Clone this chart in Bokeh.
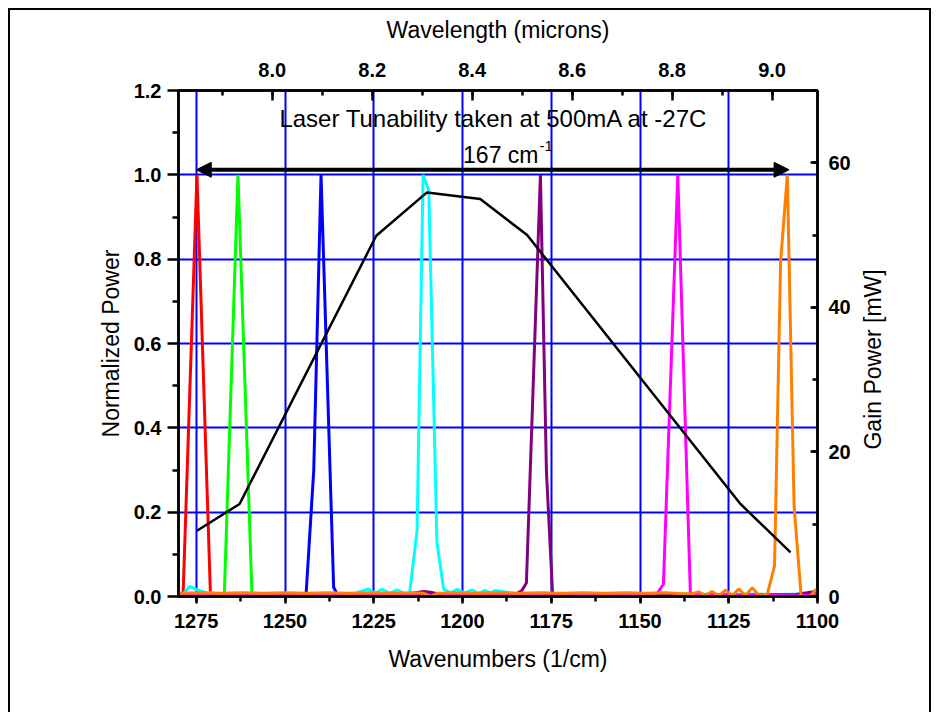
import math

from bokeh.plotting import figure
from bokeh.models import (Range1d, LinearAxis, SingleIntervalTicker, FixedTicker,
                          NumeralTickFormatter, Label, Arrow, NormalHead, InlineStyleSheet)
from bokeh.embed import file_html
from bokeh.resources import INLINE

FONT = "Liberation Sans"

# ---- axis limits and ticks ----------------------------------------------
WN_LEFT, WN_RIGHT = 1280.0, 1100.0          # wavenumber axis runs high -> low
NORM_MAX = 1.2
GAIN_MAX = 70.0
norm_ticks = [0.0, 0.2, 0.4, 0.6, 0.8, 1.0, 1.2]
norm_minor = [0.1, 0.3, 0.5, 0.7, 0.9, 1.1]

# ---- normalized laser spectra (wavenumber [1/cm], normalized power) ----
red_wn = [1280.0, 1278.7, 1274.8, 1271.0, 1264.0, 1256.0, 1248.0, 1240.0, 1232.0, 1224.0,
          1216.0, 1208.0, 1200.0, 1192.0, 1184.0, 1176.0, 1168.0, 1160.0, 1152.0, 1144.0,
          1136.0, 1128.0, 1120.0, 1112.0, 1104.0, 1100.0]
red_val = [0.004, 0.006, 1.000, 0.004, 0.003, 0.004, 0.002, 0.003, 0.004, 0.002,
           0.003, 0.004, 0.003, 0.002, 0.004, 0.003, 0.002, 0.003, 0.004, 0.003,
           0.002, 0.003, 0.004, 0.002, 0.003, 0.003]

green_wn = [1280.0, 1274.0, 1270.0, 1267.1, 1263.25, 1259.3, 1252.0, 1244.0, 1236.0, 1228.0,
            1220.0, 1212.0, 1204.0, 1196.0, 1188.0, 1180.0, 1172.0, 1164.0, 1156.0, 1148.0,
            1140.0, 1132.0, 1124.0, 1116.0, 1108.0, 1100.0]
green_val = [0.002, 0.003, 0.002, 0.004, 1.000, 0.004, 0.002, 0.003, 0.002, 0.001,
             0.003, 0.002, 0.002, 0.003, 0.001, 0.002, 0.003, 0.002, 0.002, 0.001,
             0.003, 0.002, 0.002, 0.003, 0.002, 0.002]

blue_wn = [1280.0, 1272.0, 1264.0, 1256.0, 1248.0, 1244.1, 1241.9, 1239.85, 1236.3, 1235.2,
           1230.0, 1222.0, 1214.0, 1206.0, 1198.0, 1190.0, 1182.0, 1174.0, 1166.0, 1158.0,
           1150.0, 1142.0, 1134.0, 1126.0, 1118.0, 1110.0, 1100.0]
blue_val = [0.001, 0.002, 0.001, 0.002, 0.001, 0.000, 0.300, 1.000, 0.022, 0.004,
            0.002, 0.001, 0.002, 0.001, 0.002, 0.001, 0.002, 0.001, 0.002, 0.001,
            0.002, 0.001, 0.002, 0.001, 0.002, 0.001, 0.002]

cyan_wn = [1280.0, 1278.6, 1276.9, 1274.8, 1272.2, 1266.0, 1258.0, 1250.0, 1242.0, 1234.0,
           1230.2, 1226.5, 1224.6, 1222.7, 1220.6, 1218.4, 1216.5, 1214.9, 1212.8, 1211.1,
           1209.5, 1207.2, 1205.3, 1203.4, 1201.5, 1199.4, 1197.3, 1195.5, 1193.6, 1192.2,
           1190.8, 1184.0, 1176.0, 1168.0, 1160.0, 1152.0, 1144.0, 1136.0, 1128.0, 1120.0,
           1112.0, 1104.0, 1100.0]
cyan_val = [0.005, 0.006, 0.024, 0.016, 0.009, 0.006, 0.005, 0.006, 0.005, 0.006,
            0.008, 0.018, 0.007, 0.017, 0.008, 0.016, 0.007, 0.008, 0.156, 1.000,
            0.963, 0.128, 0.018, 0.008, 0.017, 0.008, 0.016, 0.007, 0.015, 0.008,
            0.014, 0.006, 0.005, 0.006, 0.005, 0.006, 0.005, 0.006, 0.005, 0.006,
            0.005, 0.006, 0.005]

purple_wn = [1280.0, 1272.0, 1264.0, 1256.0, 1248.0, 1240.0, 1232.0, 1224.0, 1216.0, 1211.0,
             1209.0, 1206.0, 1198.0, 1190.0, 1185.0, 1183.3, 1182.0, 1178.05, 1176.35, 1174.6,
             1170.0, 1162.0, 1154.0, 1146.0, 1138.0, 1130.0, 1122.0, 1114.0, 1106.0, 1102.0,
             1100.0]
purple_val = [0.003, 0.004, 0.003, 0.004, 0.003, 0.004, 0.003, 0.004, 0.005, 0.012,
              0.010, 0.004, 0.003, 0.004, 0.005, 0.014, 0.032, 1.000, 0.295, 0.002,
              0.003, 0.004, 0.003, 0.004, 0.003, 0.004, 0.003, 0.004, 0.005, 0.010,
              0.012]

magenta_wn = [1280.0, 1270.0, 1260.0, 1250.0, 1240.0, 1230.0, 1220.0, 1210.0, 1200.0, 1190.0,
              1180.0, 1170.0, 1160.0, 1152.0, 1145.2, 1143.4, 1139.35, 1135.8, 1130.0, 1122.0,
              1114.0, 1106.0, 1100.0]
magenta_val = [0.003, 0.002, 0.003, 0.002, 0.003, 0.002, 0.003, 0.002, 0.003, 0.002,
               0.003, 0.002, 0.003, 0.004, 0.007, 0.029, 1.000, 0.004, 0.003, 0.002,
               0.003, 0.002, 0.003]

orange_wn = [1280.0, 1274.0, 1268.0, 1262.0, 1256.0, 1250.0, 1244.0, 1238.0, 1232.0, 1226.0,
             1220.0, 1214.0, 1211.0, 1209.0, 1207.0, 1202.0, 1196.0, 1190.0, 1184.0, 1178.0,
             1172.0, 1166.0, 1160.0, 1154.0, 1148.0, 1143.0, 1139.0, 1135.5, 1133.5, 1131.6,
             1129.7, 1127.8, 1125.9, 1124.0, 1122.2, 1120.3, 1118.4, 1116.5, 1114.15, 1112.1,
             1110.4, 1108.5, 1106.6, 1104.6, 1102.0, 1100.6, 1100.0]
orange_val = [0.008, 0.009, 0.008, 0.009, 0.008, 0.009, 0.008, 0.009, 0.008, 0.009,
              0.008, 0.009, 0.008, 0.000, 0.008, 0.009, 0.008, 0.009, 0.008, 0.009,
              0.008, 0.009, 0.008, 0.009, 0.008, 0.009, 0.007, 0.006, 0.011, 0.003,
              0.012, 0.002, 0.015, 0.002, 0.018, 0.002, 0.021, 0.003, 0.005, 0.073,
              0.793, 1.000, 0.216, 0.000, 0.000, 0.016, 0.012]

spectra = [
    (red_wn, red_val, "#FF0000"),
    (green_wn, green_val, "#00FF00"),
    (blue_wn, blue_val, "#0000FF"),
    (cyan_wn, cyan_val, "#00FFFF"),
    (purple_wn, purple_val, "#800080"),
    (magenta_wn, magenta_val, "#FF00FF"),
    (orange_wn, orange_val, "#FF8000"),
]

# ---- gain curve (wavenumber [1/cm], power [mW]) -------------------------
gain_wn = [1274.8, 1262.8, 1224.3, 1210.0, 1195.0, 1181.8, 1121.7, 1107.6]
gain_mw = [9.1, 12.8, 49.9, 55.9, 55.0, 50.0, 12.8, 6.1]

# ---- tuning range annotation -------------------------------------------
TUNE_START = 1275.0
TUNE_SPAN = 167
TITLE = "Laser Tunability taken at 500mA at -27C"

# thin frame drawn around the whole graphic
page_frame = InlineStyleSheet(css="""
:host::after {
  content: "";
  position: absolute;
  left: 8px; top: 8px;
  width: 923px; height: 704px;
  box-sizing: border-box;
  border-left: 2px solid black;
  border-top: 2px solid black;
  border-right: 2px solid black;
  pointer-events: none;
}
""")

p = figure(width=939, height=712, output_backend="svg", toolbar_location=None,
           x_range=Range1d(WN_LEFT, WN_RIGHT), y_range=Range1d(0, NORM_MAX),
           min_border_left=178, min_border_right=122, min_border_top=90, min_border_bottom=116,
           background_fill_color="white", border_fill_color="white")
p.stylesheets = [page_frame]
p.extra_x_ranges = {"wl": Range1d(1e4 / WN_LEFT, 1e4 / WN_RIGHT)}
p.extra_y_ranges = {"gain": Range1d(0, GAIN_MAX)}

p.outline_line_color = "black"
p.outline_line_width = 2.5


def style_axis(ax, label, tick_in, tick_out, minor_in, minor_out, standoff, label_standoff):
    ax.axis_label = label
    ax.axis_label_text_font = FONT
    ax.axis_label_text_font_size = "23px"
    ax.axis_label_text_font_style = "normal"
    ax.axis_label_text_color = "black"
    ax.axis_label_standoff = label_standoff
    ax.major_label_text_font = FONT
    ax.major_label_text_font_size = "20px"
    ax.major_label_text_font_style = "bold"
    ax.major_label_text_color = "black"
    ax.major_label_standoff = standoff
    ax.axis_line_width = 2.5
    ax.axis_line_color = "black"
    ax.major_tick_line_width = 2.5
    ax.minor_tick_line_width = 2.5
    ax.major_tick_line_color = "black"
    ax.minor_tick_line_color = "black"
    ax.major_tick_in = tick_in
    ax.major_tick_out = tick_out
    ax.minor_tick_in = minor_in
    ax.minor_tick_out = minor_out


xb = p.xaxis[0]
xb.ticker = SingleIntervalTicker(interval=25, num_minor_ticks=2)
xb.formatter = NumeralTickFormatter(format="0")
style_axis(xb, "Wavenumbers (1/cm)", 0, 7, 0, 5, 10, 15)

yl = p.yaxis[0]
yl.ticker = FixedTicker(ticks=norm_ticks, minor_ticks=norm_minor)
yl.formatter = NumeralTickFormatter(format="0.0")
style_axis(yl, "Normalized Power", 0, 11, 0, 6, 6, 7)

xt = LinearAxis(x_range_name="wl",
                ticker=SingleIntervalTicker(interval=0.2, num_minor_ticks=2),
                formatter=NumeralTickFormatter(format="0.0"))
style_axis(xt, "Wavelength (microns)", 10, 0, 5, 0, 14, 17)
p.add_layout(xt, "above")

# right axis; its title reads bottom-to-top, anchored at the lower end of the
# axis and pushed up by leading no-break spaces so it sits mid-height
yr = LinearAxis(y_range_name="gain",
                ticker=SingleIntervalTicker(interval=20, num_minor_ticks=2),
                formatter=NumeralTickFormatter(format="0"))
style_axis(yr, "\u00a0" * 23 + "Gain Power [mW]", 7, 0, 5, 0, 11, 19)
yr.axis_label_orientation = math.pi / 2
yr.axis_label_align = "start"
p.add_layout(yr, "right")

p.xgrid.grid_line_color = "#0000FF"
p.xgrid.grid_line_width = 2
p.ygrid.grid_line_color = "#0000FF"
p.ygrid.grid_line_width = 2
p.ygrid.ticker = FixedTicker(ticks=norm_ticks)

for wn, val, col in spectra:
    p.line(wn, val, line_color=col, line_width=3)

p.line(gain_wn, gain_mw, y_range_name="gain", line_color="black", line_width=2.5)

# double-headed arrow marking the tuning range
p.add_layout(Arrow(start=NormalHead(size=15, fill_color="black", line_color="black"),
                   end=NormalHead(size=15, fill_color="black", line_color="black"),
                   x_start=TUNE_START, x_end=TUNE_START - TUNE_SPAN,
                   y_start=1.012, y_end=1.012, line_width=4, line_color="black"))

p.add_layout(Label(x=1191.2, y=1.134, text=TITLE, text_font=FONT, text_font_size="24px",
                   text_align="center", text_baseline="middle", text_color="black"))
p.add_layout(Label(x=1178.6, y=1.046, text=f"{TUNE_SPAN} cm", text_font=FONT,
                   text_font_size="23px", text_align="right", text_baseline="middle",
                   text_color="black"))
p.add_layout(Label(x=1178.6, y=1.068, x_offset=1, text="-1", text_font=FONT,
                   text_font_size="15px", text_align="left", text_baseline="middle",
                   text_color="black"))

open("out.html", "w").write(file_html(p, INLINE))
